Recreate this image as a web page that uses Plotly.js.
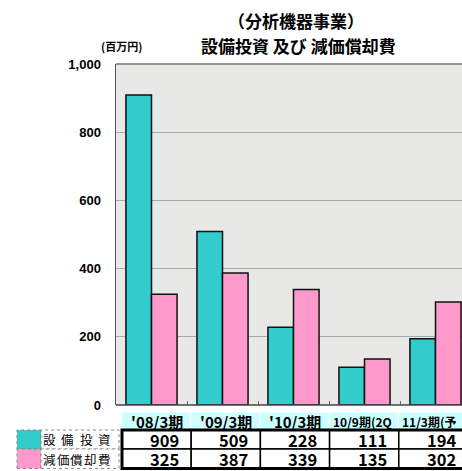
<!DOCTYPE html>
<html><head><meta charset="utf-8">
<script src="https://cdn.plot.ly/plotly-3.0.1.min.js"></script>
<style>html,body{margin:0;padding:0;overflow:hidden;background:#fff}</style>
</head><body>
<div id="chart" style="width:462px;height:471px"></div>
<script>
const categories = ["'08/3期", "'09/3期", "'10/3期", "'10/9期（2Q）", "'11/3期（予想）"];
const headerLabels = ["'08/3期", "'09/3期", "'10/3期", "10/9期(2Q", "11/3期(予"];
const seriesNames = ["設備投資", "減価償却費"];
const capex = [909, 509, 228, 111, 194];
const depreciation = [325, 387, 339, 135, 302];
const yTicks = [0, 200, 400, 600, 800, 1000];
const yTickText = ["0", "200", "400", "600", "800", "1,000"];

const L = 116, W = 346, B = 405, H = 341, CW = 71, TW = 69.2;
const px = v => (v - L) / W;          // pixel x -> paper
const py = v => (B - v) / H;          // pixel y -> paper
const colors = ["#33cccc", "#ff99cc"];
const jp = "'Noto Sans CJK JP', sans-serif";

const traces = [
  {type: 'bar', x: categories, y: capex, name: seriesNames[0],
   marker: {color: colors[0], line: {color: '#111', width: 1.5}}},
  {type: 'bar', x: categories, y: depreciation, name: seriesNames[1],
   marker: {color: colors[1], line: {color: '#111', width: 1.5}}}
];

const shapes = [];
const annotations = [];
function ann(x, y, text, font, xa, ya) {
  annotations.push({xref: 'paper', yref: 'paper', x: px(x), y: py(y), text: text, showarrow: false,
    xanchor: xa || 'center', yanchor: ya || 'middle', font: font});
}

// titles
ann(296, 21, '（分析機器事業）', {family: jp, size: 17, color: '#000', weight: 'bold'});
ann(298, 45, '設備投資 及び 減価償却費', {family: jp, size: 17, color: '#000', weight: 'bold'});
ann(121, 46, '(百万円)', {family: jp, size: 11, color: '#000', weight: 'bold'});

// table
const hTop = 412.5, hBot = 430, r1 = 449, r2 = 468.5;
categories.forEach((c, i) => {
  const x0 = 122 + TW * i, x1 = 190 + TW * i;
  shapes.push({type: 'rect', xref: 'paper', yref: 'paper', x0: px(x0), x1: px(x1), y0: py(hBot), y1: py(hTop),
    fillcolor: '#ccffff', line: {width: 0}, layer: 'below'});
  if (i < 3) {
    ann((x0 + x1) / 2 + 1, (hTop + hBot) / 2 + 0.5, headerLabels[i], {family: jp, size: 15, color: '#000', weight: 'bold'});
  } else {
    ann(x0 + 1, (hTop + hBot) / 2 + 0.5, headerLabels[i], {family: jp, size: 12, color: '#000', weight: 'bold'}, 'left');
  }
  [[hBot, r1, capex[i]], [r1, r2, depreciation[i]]].forEach(([t, b, v]) => {
    shapes.push({type: 'rect', xref: 'paper', yref: 'paper', x0: px(x0), x1: px(x0 + TW), y0: py(b), y1: py(t),
      fillcolor: '#fff', line: {color: '#000', width: 1.5}});
    ann(x1 - 9, (t + b) / 2 + 0.5, String(v), {family: jp, size: 16.5, color: '#000', weight: 'bold'}, 'right');
  });
});
// outer thick border
shapes.push({type: 'rect', xref: 'paper', yref: 'paper', x0: px(122), x1: px(475), y0: py(r2), y1: py(hBot),
  line: {color: '#000', width: 3}});

// legend column
[[hBot, r1], [r1, r2]].forEach(([t, b], k) => {
  shapes.push({type: 'rect', xref: 'paper', yref: 'paper', x0: px(17), x1: px(41), y0: py(b), y1: py(t),
    fillcolor: colors[k], line: {color: '#888', width: 1, dash: 'dot'}});
  shapes.push({type: 'rect', xref: 'paper', yref: 'paper', x0: px(41), x1: px(119), y0: py(b), y1: py(t),
    fillcolor: '#fff', line: {color: '#888', width: 1, dash: 'dot'}});
  const chars = seriesNames[k].split('');
  const step = (98.5 - 43) / (chars.length - 1);
  chars.forEach((ch, j) => {
    ann(43 + 6.2 + j * step, (t + b) / 2 + 0.5, ch, {family: jp, size: 12.5, color: '#000'});
  });
});

const layout = {
  width: 462, height: 471,
  margin: {l: L, r: 0, t: 64, b: 66},
  paper_bgcolor: '#fff', plot_bgcolor: '#e8e8e6',
  barmode: 'group', bargap: 0.28, bargroupgap: 0,
  showlegend: false,
  xaxis: {type: 'category', range: [-0.5, -0.5 + W / CW], showticklabels: false,
    ticks: 'inside', tickson: 'boundaries', ticklen: 4, tickcolor: '#666',
    showgrid: false, zeroline: false, showline: false},
  yaxis: {range: [0, 1000], tickvals: yTicks, ticktext: yTickText, showgrid: true, gridcolor: '#a8a8a8', gridwidth: 1,
    zeroline: false, showline: true, linecolor: '#555', linewidth: 1.5, ticks: '', ticklabelstandoff: 11,
    tickfont: {family: 'Arial, Liberation Sans, sans-serif', size: 13, color: '#000', weight: 'bold'}},
  shapes: shapes.concat([
    {type: 'line', xref: 'paper', yref: 'paper', x0: 0, x1: 1, y0: 1, y1: 1, line: {color: '#777', width: 1.5}},
    {type: 'line', xref: 'paper', yref: 'paper', x0: 0, x1: 1, y0: 0, y1: 0, line: {color: '#444', width: 1.5}}
  ]),
  annotations: annotations
};
Plotly.newPlot('chart', traces, layout, {displayModeBar: false, staticPlot: true});
</script>
</body></html>
